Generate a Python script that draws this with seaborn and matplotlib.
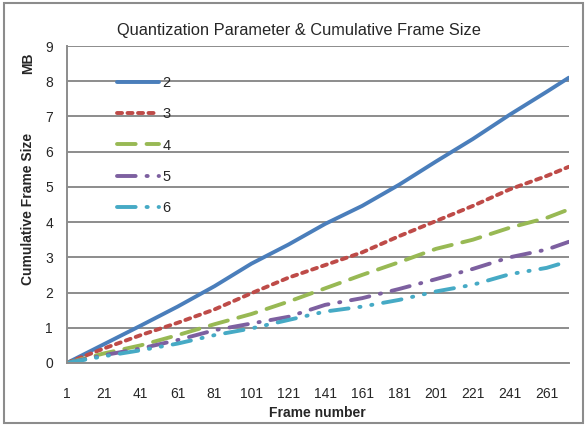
import pandas as pd
import numpy as np
import matplotlib.pyplot as plt
import seaborn as sns

# valeurs (MB cumulés)
frames = [1, 21, 41, 61, 81, 101, 121, 141, 161, 181, 201, 221, 241, 261, 273]
qp2 = [0, 0.53, 1.06, 1.60, 2.18, 2.82, 3.36, 3.95, 4.46, 5.06, 5.72, 6.36, 7.05, 7.70, 8.10]
qp3 = [0, 0.41, 0.79, 1.14, 1.52, 1.98, 2.42, 2.78, 3.14, 3.60, 4.03, 4.46, 4.93, 5.31, 5.57]
qp4 = [0, 0.27, 0.50, 0.79, 1.10, 1.39, 1.74, 2.12, 2.50, 2.86, 3.24, 3.50, 3.84, 4.12, 4.36]
qp5 = [0, 0.22, 0.41, 0.65, 0.93, 1.12, 1.31, 1.65, 1.84, 2.10, 2.38, 2.67, 3.00, 3.22, 3.44]
qp6 = [0, 0.19, 0.36, 0.55, 0.79, 0.98, 1.22, 1.46, 1.60, 1.79, 2.03, 2.22, 2.52, 2.70, 2.89]
qp_labels = ['2', '3', '4', '5', '6']
x_ticks = list(range(1, 262, 20))

df = pd.DataFrame({'frame': frames * 5,
                   'size': qp2 + qp3 + qp4 + qp5 + qp6,
                   'qp': [q for q in qp_labels for _ in frames]})

sns.set_style('white')
plt.rcParams['font.family'] = ['Liberation Sans', 'DejaVu Sans']

colors = {'2': '#4A7EBB', '3': '#BE4B48', '4': '#98B954', '5': '#7D60A0', '6': '#46AAC5'}
dashes = {'2': '', '3': (1.3, 1.4), '4': (4.8, 2.8), '5': (4.8, 2.8, 0.3, 2.8),
          '6': (4.8, 2.8, 0.3, 2.8, 0.3, 2.8)}
lw = 2.8

fig = plt.figure(figsize=(5.87, 4.26), dpi=100)
ax = fig.add_axes([0.114, 0.148, 0.855, 0.744])

sns.lineplot(data=df, x='frame', y='size', hue='qp', style='qp', palette=colors,
             dashes=dashes, linewidth=lw, ax=ax, legend=False)

for line in ax.get_lines():
    line.set_dash_capstyle('round')
    line.set_solid_capstyle('round')

# légende manuelle
handles = []
for q in qp_labels:
    if dashes[q]:
        h, = ax.plot([], [], color=colors[q], linewidth=lw, dashes=dashes[q],
                     dash_capstyle='round')
    else:
        h, = ax.plot([], [], color=colors[q], linewidth=lw)
    handles.append(h)
ax.legend(handles, qp_labels, loc='upper left', bbox_to_anchor=(0.1, 0.905),
          frameon=False, fontsize=10.5, handlelength=2.9, handletextpad=0.2,
          labelspacing=1.18, borderpad=0, borderaxespad=0)

ax.set_xlim(1, 273)
ax.set_ylim(0, 9)
ax.set_yticks(range(0, 10))
ax.set_xticks(x_ticks)
ax.set_xticklabels([str(t) for t in x_ticks])
ax.grid(axis='y', color='#8C8C8C', linewidth=1.4)
ax.set_axisbelow(True)
for s in ['top', 'right']:
    ax.spines[s].set_visible(False)
for s in ['left', 'bottom']:
    ax.spines[s].set_color('#8C8C8C')
    ax.spines[s].set_linewidth(1.4)
ax.tick_params(axis='both', direction='out', length=4, width=1.2, color='#8C8C8C',
               labelsize=10, pad=6)
ax.tick_params(axis='x', pad=13)

ax.set_xlabel('Frame number', fontsize=10, fontweight='bold', labelpad=4)
ax.set_ylabel('')
fig.text(0.048, 0.51, 'Cumulative Frame Size', rotation=90, fontsize=10,
         fontweight='bold', ha='center', va='center')
fig.text(0.048, 0.852, 'MB', rotation=90, fontsize=10, fontweight='bold',
         ha='center', va='center')
fig.text(0.51, 0.928, 'Quantization Parameter & Cumulative Frame Size', fontsize=11.8,
         ha='center', va='center', family=['Liberation Sans Narrow', 'Liberation Sans'])

# cadre gris autour de la figure
fig.patches.append(plt.Rectangle((0.006, 0.006), 0.988, 0.988, transform=fig.transFigure,
                                 fill=False, edgecolor='#8C8C8C', linewidth=1.5))

fig.savefig('out.png', dpi=100)
